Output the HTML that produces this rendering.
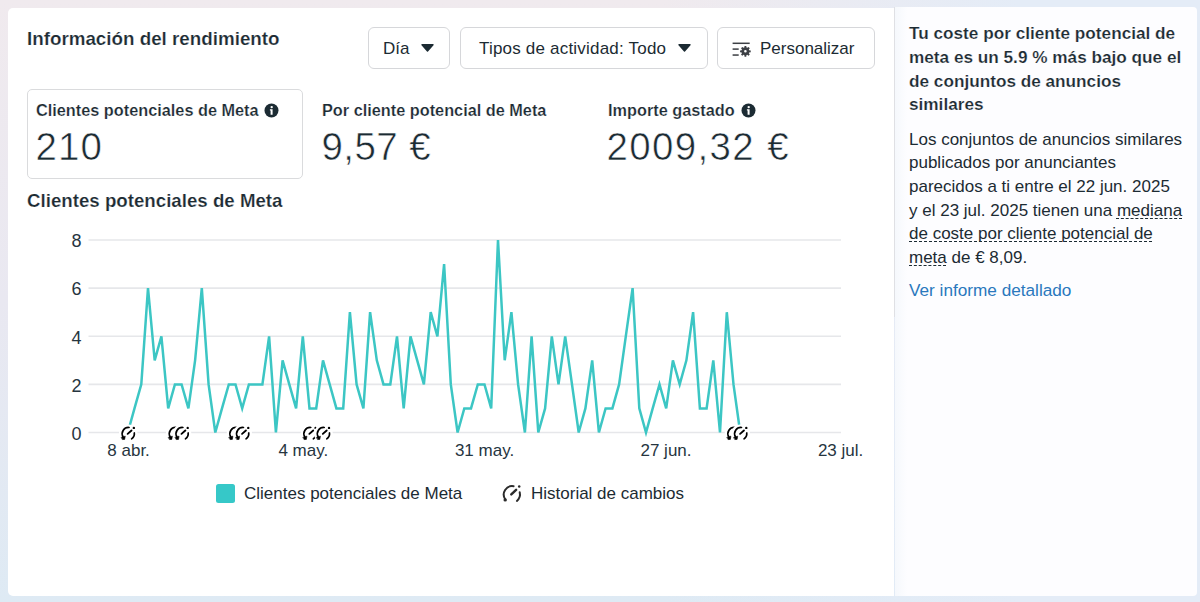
<!DOCTYPE html>
<html><head><meta charset="utf-8">
<style>
*{box-sizing:border-box}
html,body{margin:0;padding:0;width:1200px;height:602px;overflow:hidden}
body{font-family:"Liberation Sans",sans-serif;color:#1c2b33;position:relative;
background:linear-gradient(to right,rgba(228,236,247,0) 55%,rgba(228,236,247,1) 85%),linear-gradient(to bottom,#f0eaee 0%,#e9e8f1 50%,#deeaf4 100%)}
.bgtl{position:absolute;left:0;top:0;width:500px;height:300px;background:radial-gradient(ellipse at 0 0,#f1ebed 0%,rgba(241,235,237,0) 70%)}
.card{position:absolute;left:8px;top:8px;width:886px;height:588px;background:#fff;border-radius:5px 0 0 5px}
.side{position:absolute;left:895px;top:7px;width:302px;height:589px;background:linear-gradient(to right,#f5f8fc 0px,#fdfdff 12px);border-radius:0 4px 4px 0}
.divider{position:absolute;left:894px;top:7px;width:1px;height:310px;background:#dfe0e4}
.t{position:absolute;white-space:nowrap;line-height:1}
.btn{position:absolute;top:27px;height:42px;border:1px solid #d6d7da;border-radius:6px;background:#fff}
.caret{position:absolute;width:0;height:0;border-left:6.5px solid transparent;border-right:6.5px solid transparent;border-top:7.5px solid #1c2b33}
.mbox{position:absolute;left:27px;top:89px;width:276px;height:90px;border:1px solid #dadbdd;border-radius:5px}
.info{position:absolute;width:15px;height:15px;border-radius:50%;background:#465a69}
svg text{font-family:"Liberation Sans",sans-serif}
.dash{text-decoration:underline dashed #1c2b33;text-decoration-thickness:1px;text-underline-offset:1.5px;text-decoration-skip-ink:none}
</style></head><body>

<div class="card"></div>
<div class="side"></div>
<div class="divider"></div>
<div class="t" style="left:27px;top:30.29px;font-size:18.8px;font-weight:bold;color:#1c2b33;-webkit-text-stroke:0.2px #fff;">Información del rendimiento</div>
<div class="btn" style="left:368px;width:82px"></div><div class="t" style="left:383px;top:39.81px;font-size:17px;font-weight:normal;color:#1c2b33;">Día</div>
<svg class="t" style="left:421px;top:43.8px" width="13" height="8" viewBox="0 0 13 8"><path d="M1 0.8 H12 L6.5 7 Z" fill="#1c2b33" stroke="#1c2b33" stroke-width="1.4" stroke-linejoin="round"/></svg><div class="btn" style="left:460px;width:248px"></div><div class="t" style="left:479px;top:39.81px;font-size:17px;font-weight:normal;color:#1c2b33;letter-spacing:0.2px">Tipos de actividad: Todo</div>
<svg class="t" style="left:677.5px;top:43.8px" width="13" height="8" viewBox="0 0 13 8"><path d="M1 0.8 H12 L6.5 7 Z" fill="#1c2b33" stroke="#1c2b33" stroke-width="1.4" stroke-linejoin="round"/></svg><div class="btn" style="left:717px;width:158px"></div><svg class="t" style="left:726px;top:36px" width="32" height="24" viewBox="0 0 32 24"><g fill="#3c3f44"><rect x="6.6" y="6.55" width="17.1" height="1.5"/><rect x="6.6" y="12.35" width="6.1" height="1.5"/><rect x="6.6" y="18.3" width="6.1" height="1.5"/>
<path fill-rule="evenodd" d="M23.14,14.19 L24.73,14.46 L24.73,16.14 L23.14,16.41 L22.83,17.16 L23.77,18.47 L22.57,19.67 L21.26,18.73 L20.51,19.04 L20.24,20.63 L18.56,20.63 L18.29,19.04 L17.54,18.73 L16.23,19.67 L15.03,18.47 L15.97,17.16 L15.66,16.41 L14.07,16.14 L14.07,14.46 L15.66,14.19 L15.97,13.44 L15.03,12.13 L16.23,10.93 L17.54,11.87 L18.29,11.56 L18.56,9.97 L20.24,9.97 L20.51,11.56 L21.26,11.87 L22.57,10.93 L23.77,12.13 L22.83,13.44Z M20.7,15.3 A1.3 1.3 0 1 0 18.1,15.3 A1.3 1.3 0 1 0 20.7,15.3Z"/></g></svg><div class="t" style="left:760px;top:39.81px;font-size:17px;font-weight:normal;color:#1c2b33;">Personalizar</div>
<div class="mbox"></div><div class="t" style="left:36px;top:102.10px;font-size:16.3px;font-weight:bold;color:#1c2b33;-webkit-text-stroke:0.2px #fff;">Clientes potenciales de Meta</div>
<svg class="t" style="left:263.7px;top:102.5px" width="15" height="15" viewBox="-7.5 -7.5 15 15"><circle r="7" fill="#1c2b33"/><circle cx="0.2" cy="-3.4" r="1.2" fill="#fff"/><path d="M-1.6 -1.3 H1.1 V4.3 H-0.9 V0.1 H-1.6Z" fill="#fff"/></svg><div class="t" style="left:35.5px;top:127.71px;font-size:38.5px;font-weight:normal;color:#1c2b33;-webkit-text-stroke:0.6px #fff;letter-spacing:1.1px">210</div>
<div class="t" style="left:322px;top:102.10px;font-size:16.3px;font-weight:bold;color:#1c2b33;-webkit-text-stroke:0.2px #fff;">Por cliente potencial de Meta</div>
<div class="t" style="left:321.5px;top:127.71px;font-size:38.5px;font-weight:normal;color:#1c2b33;-webkit-text-stroke:0.6px #fff;letter-spacing:0.4px">9,57 €</div>
<div class="t" style="left:608px;top:102.10px;font-size:16.3px;font-weight:bold;color:#1c2b33;-webkit-text-stroke:0.2px #fff;">Importe gastado</div>
<svg class="t" style="left:740.7px;top:102.5px" width="15" height="15" viewBox="-7.5 -7.5 15 15"><circle r="7" fill="#1c2b33"/><circle cx="0.2" cy="-3.4" r="1.2" fill="#fff"/><path d="M-1.6 -1.3 H1.1 V4.3 H-0.9 V0.1 H-1.6Z" fill="#fff"/></svg><div class="t" style="left:606.5px;top:127.71px;font-size:38.5px;font-weight:normal;color:#1c2b33;-webkit-text-stroke:0.6px #fff;letter-spacing:1.35px">2009,32 €</div>
<div class="t" style="left:27px;top:191.57px;font-size:18.7px;font-weight:bold;color:#1c2b33;-webkit-text-stroke:0.2px #fff;">Clientes potenciales de Meta</div>
<svg class="t" style="left:0;top:0" width="900" height="602" viewBox="0 0 900 602">
<defs>
<symbol id="ic" viewBox="-9.5 -9.5 19 19">
<circle cx="0" cy="0" r="9.5" fill="#fff"/>
<g fill="none" stroke="#000" stroke-width="1.7" stroke-linecap="round">
<path d="M0.81 -6.25 A6.3 6.3 0 0 0 -5.3 3.0"/>
<path d="M6.05 -0.77 A6.1 6.1 0 0 1 3.35 5.1"/>
<path d="M-0.6 0.1 L3.25 -3.3" stroke-width="1.9"/>
<circle cx="5.6" cy="-5.86" r="1.2" fill="#000" stroke="none"/>
<path d="M-6.8 3.5 L-3.0 2.4 L-3.6 5.7 L-5.6 5.8 Z" fill="#000" stroke="#000" stroke-width="0.6" stroke-linejoin="round"/>
</g>
</symbol>
</defs>
<g stroke="#e6e7ea" stroke-width="1.6"><line x1="88.5" x2="841" y1="432.5" y2="432.5"/><line x1="88.5" x2="841" y1="384.4" y2="384.4"/><line x1="88.5" x2="841" y1="336.3" y2="336.3"/><line x1="88.5" x2="841" y1="288.1" y2="288.1"/><line x1="88.5" x2="841" y1="240.0" y2="240.0"/></g>
<g fill="#26353f" font-size="18" text-anchor="end"><text x="81.4" y="439.7">0</text><text x="81.4" y="391.6">2</text><text x="81.4" y="343.5">4</text><text x="81.4" y="295.3">6</text><text x="81.4" y="247.2">8</text></g>
<polyline fill="none" stroke="#3cc6c4" stroke-width="2.5" stroke-linejoin="miter" points="127.8,432.5 134.5,408.4 141.3,384.4 148.0,288.1 154.7,360.3 161.4,336.3 168.2,408.4 174.9,384.4 181.6,384.4 188.4,408.4 195.1,360.3 201.8,288.1 208.6,384.4 215.3,432.5 222.0,408.4 228.8,384.4 235.5,384.4 242.2,408.4 248.9,384.4 255.7,384.4 262.4,384.4 269.1,336.3 275.9,432.5 282.6,360.3 289.3,384.4 296.1,408.4 302.8,336.3 309.5,408.4 316.2,408.4 323.0,360.3 329.7,384.4 336.4,408.4 343.2,408.4 349.9,312.2 356.6,384.4 363.4,408.4 370.1,312.2 376.8,360.3 383.5,384.4 390.3,384.4 397.0,336.3 403.7,408.4 410.5,336.3 417.2,360.3 423.9,384.4 430.7,312.2 437.4,336.3 444.1,264.1 450.8,384.4 457.6,432.5 464.3,408.4 471.0,408.4 477.8,384.4 484.5,384.4 491.2,408.4 498.0,240.0 504.7,360.3 511.4,312.2 518.1,384.4 524.9,432.5 531.6,336.3 538.3,432.5 545.1,408.4 551.8,336.3 558.5,384.4 565.2,336.3 572.0,384.4 578.7,432.5 585.4,408.4 592.2,360.3 598.9,432.5 605.6,408.4 612.4,408.4 619.1,384.4 625.8,336.3 632.6,288.1 639.3,408.4 646.0,432.5 652.7,408.4 659.5,384.4 666.2,408.4 672.9,360.3 679.7,384.4 686.4,360.3 693.1,312.2 699.9,408.4 706.6,408.4 713.3,360.3 720.0,432.5 726.8,312.2 733.5,384.4 740.2,432.5"/>
<use href="#ic" width="19" height="19" x="118.75" y="424.25"/><use href="#ic" width="19" height="19" x="165.86" y="424.25"/><use href="#ic" width="19" height="19" x="172.59" y="424.25"/><use href="#ic" width="19" height="19" x="226.43" y="424.25"/><use href="#ic" width="19" height="19" x="233.16" y="424.25"/><use href="#ic" width="19" height="19" x="300.46" y="424.25"/><use href="#ic" width="19" height="19" x="313.92" y="424.25"/><use href="#ic" width="19" height="19" x="724.45" y="424.25"/><use href="#ic" width="19" height="19" x="731.18" y="424.25"/>
<g fill="#26353f" font-size="17" text-anchor="middle">
<text x="128.6" y="455.8">8 abr.</text><text x="303.3" y="455.8">4 may.</text><text x="484.5" y="455.8">31 may.</text><text x="666" y="455.8">27 jun.</text><text x="840.6" y="455.8">23 jul.</text>
</g>
<rect x="216" y="484" width="19" height="19" rx="2.5" fill="#36c8c8"/>
<g transform="translate(511.3 494.3)" fill="none" stroke="#2b2b2b" stroke-width="2" stroke-linecap="round">
<path d="M2.3 -8.1 A8.5 8.5 0 0 0 -6.1 5.0"/>
<path d="M8.4 -2.0 A8.7 8.7 0 0 1 5.6 6.6"/>
<path d="M0 0 L4.8 -4.5" stroke-width="2.5"/>
<circle cx="7.9" cy="-7.7" r="1.25" fill="#2b2b2b" stroke="none"/>
<circle cx="-6.1" cy="5.6" r="1.7" fill="#2b2b2b" stroke="none"/>
</g>
</svg>
<div class="t" style="left:244px;top:485.41px;font-size:17px;font-weight:normal;color:#1c2b33;">Clientes potenciales de Meta</div>
<div class="t" style="left:531px;top:485.41px;font-size:17px;font-weight:normal;color:#1c2b33;">Historial de cambios</div>
<div class="t" style="left:909px;top:25.04px;font-size:17.2px;font-weight:bold;color:#1c2b33;-webkit-text-stroke:0.2px #fdfdff;">Tu coste por cliente potencial de</div>
<div class="t" style="left:909px;top:48.84px;font-size:17.2px;font-weight:bold;color:#1c2b33;-webkit-text-stroke:0.2px #fdfdff;">meta es un 5.9 % más bajo que el</div>
<div class="t" style="left:909px;top:72.64px;font-size:17.2px;font-weight:bold;color:#1c2b33;-webkit-text-stroke:0.2px #fdfdff;">de conjuntos de anuncios</div>
<div class="t" style="left:909px;top:96.44px;font-size:17.2px;font-weight:bold;color:#1c2b33;-webkit-text-stroke:0.2px #fdfdff;">similares</div>
<div class="t" style="left:909px;top:130.61px;font-size:17px;font-weight:normal;color:#1c2b33;">Los conjuntos de anuncios similares</div>
<div class="t" style="left:909px;top:154.27px;font-size:17px;font-weight:normal;color:#1c2b33;">publicados por anunciantes</div>
<div class="t" style="left:909px;top:177.93px;font-size:17px;font-weight:normal;color:#1c2b33;">parecidos a ti entre el 22 jun. 2025</div>
<div class="t" style="left:909px;top:201.59px;font-size:17px;font-weight:normal;color:#1c2b33;">y el 23 jul. 2025 tienen una <span class="dash">mediana</span></div>
<div class="t" style="left:909px;top:225.25px;font-size:17px;font-weight:normal;color:#1c2b33;"><span class="dash">de coste por cliente potencial de</span></div>
<div class="t" style="left:909px;top:248.91px;font-size:17px;font-weight:normal;color:#1c2b33;"><span class="dash">meta</span> de € 8,09.</div>
<div class="t" style="left:909px;top:281.74px;font-size:17.2px;font-weight:normal;color:#2a78bd;">Ver informe detallado</div>

</body></html>
